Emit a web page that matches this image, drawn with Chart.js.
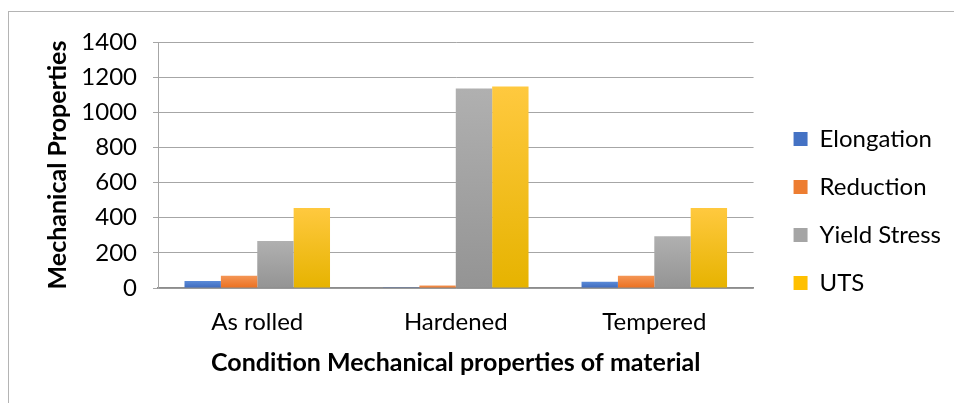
<!DOCTYPE html>
<html>
<head>
<meta charset="utf-8">
<script src="https://cdn.jsdelivr.net/npm/chart.js@4.4.1/dist/chart.umd.min.js"></script>
<style>
  html, body { margin: 0; padding: 0; background: #ffffff; }
  #frame { position: absolute; left: 8px; top: 11px; width: 1000px; height: 450px; border: 1px solid #b4b4b4; box-sizing: border-box; }
  #wrap { position: absolute; left: 0; top: 0; width: 954px; height: 403px; }
</style>
</head>
<body>
<div id="frame"></div>
<div id="wrap"><canvas id="c" width="954" height="403"></canvas></div>
<script>
const categories = ["As rolled", "Hardened", "Tempered"];
const elongation = [40, 2, 36];
const reduction = [70, 14, 70];
const yieldStress = [267, 1135, 295];
const uts = [455, 1147, 455];
const yTicks = [0, 200, 400, 600, 800, 1000, 1200, 1400];

const FONT = "Lato";
const TICK_SIZE = 24;
const LEGEND_SIZE = 24;
const TITLE_SIZE = 25;

function grad(top, bottom) {
  return function (ctx) {
    const chart = ctx.chart;
    if (!chart.chartArea || ctx.raw === undefined) return bottom;
    const ys = chart.scales.y;
    const y0 = ys.getPixelForValue(ctx.raw);
    const y1 = ys.getPixelForValue(0);
    if (!isFinite(y0) || !isFinite(y1) || Math.abs(y1 - y0) < 1) return bottom;
    const g = chart.ctx.createLinearGradient(0, y0, 0, y1);
    g.addColorStop(0, top);
    g.addColorStop(1, bottom);
    return g;
  };
}

const series = [
  { label: "Elongation", data: elongation, top: "#5b8bd8", bottom: "#3d69bd", legend: "#4472c4" },
  { label: "Reduction", data: reduction, top: "#f49656", bottom: "#eb7020", legend: "#ed7d31" },
  { label: "Yield Stress", data: yieldStress, top: "#b0b0b0", bottom: "#949494", legend: "#a5a5a5" },
  { label: "UTS", data: uts, top: "#ffc93f", bottom: "#e6b300", legend: "#ffc000" }
];

function build() {
  new Chart(document.getElementById("c"), {
    type: "bar",
    data: {
      labels: categories,
      datasets: series.map(s => ({
        label: s.label,
        data: s.data,
        backgroundColor: grad(s.top, s.bottom),
        borderWidth: 0,
        categoryPercentage: 0.733,
        barPercentage: 1.0,
        legendColor: s.legend
      }))
    },
    options: {
      responsive: false,
      animation: false,
      devicePixelRatio: 1,
      layout: { padding: { top: 42, left: 43, right: 3, bottom: 23 } },
      plugins: {
        tooltip: { enabled: false },
        legend: {
          position: "right",
          maxWidth: 182,
          labels: {
            font: { family: FONT, size: LEGEND_SIZE },
            color: "#000000",
            boxWidth: 14,
            boxHeight: 14,
            padding: 24,
            generateLabels: function (chart) {
              return chart.data.datasets.map((d, i) => ({
                text: d.label,
                fillStyle: d.legendColor,
                strokeStyle: d.legendColor,
                lineWidth: 0,
                hidden: false,
                datasetIndex: i,
                fontColor: "#000000"
              }));
            }
          }
        }
      },
      scales: {
        x: {
          grid: { display: false },
          border: { display: true, color: "#8c8c8c", width: 1.5 },
          ticks: { font: { family: FONT, size: TICK_SIZE }, color: "#000000", padding: 12 },
          title: {
            display: true,
            text: "Condition Mechanical properties of material",
            font: { family: FONT, size: TITLE_SIZE, weight: "bold" },
            color: "#000000",
            padding: { top: 0, bottom: 2 }
          },
          afterFit: s => { s.height = 92; }
        },
        y: {
          min: 0,
          max: 1400,
          afterBuildTicks: s => { s.ticks = yTicks.map(v => ({ value: v })); },
          grid: { color: "#a6a6a6", lineWidth: 1, tickLength: 5, drawTicks: true },
          border: { display: true, color: "#a6a6a6", width: 1 },
          ticks: { font: { family: FONT, size: TICK_SIZE }, color: "#000000", padding: 16, callback: v => String(v) },
          title: {
            display: true,
            text: "Mechanical Properties",
            font: { family: FONT, size: TITLE_SIZE, weight: "bold" },
            color: "#000000",
            padding: { top: 0, bottom: 0 }
          },
          afterFit: s => { s.width = 115; }
        },
        y2: {
          position: "right",
          display: true,
          grid: { display: false, drawTicks: false },
          border: { display: false },
          ticks: { display: false },
          afterFit: s => { s.width = 16; }
        }
      }
    }
  });
}

Promise.all([
  document.fonts.load(TICK_SIZE + "px " + FONT),
  document.fonts.load("bold " + TITLE_SIZE + "px " + FONT)
]).then(build, build);
</script>
</body>
</html>
